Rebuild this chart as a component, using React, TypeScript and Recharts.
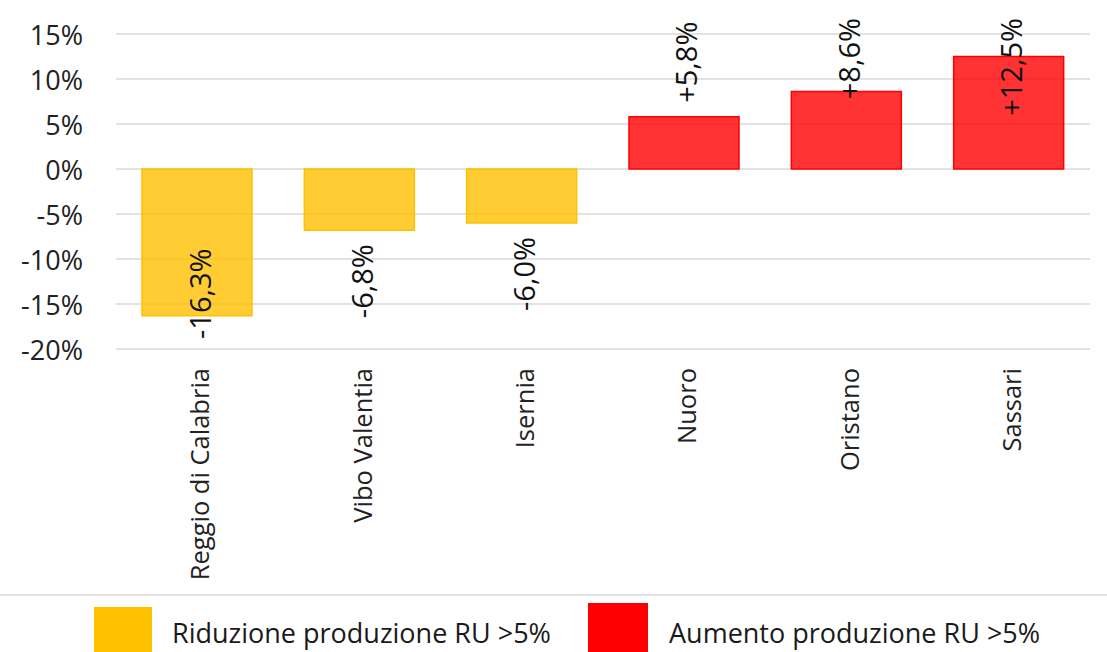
import React from "react";
import { BarChart, Bar, XAxis, YAxis, CartesianGrid, Cell, LabelList } from "recharts";

const categories = ["Reggio di Calabria", "Vibo Valentia", "Isernia", "Nuoro", "Oristano", "Sassari"];
const values = [-16.3, -6.8, -6.0, 5.8, 8.6, 12.5];
const yTicks = [-20, -15, -10, -5, 0, 5, 10, 15];
const legendItems = [
  { label: "Riduzione produzione RU >5%", color: "#FFC000" },
  { label: "Aumento produzione RU >5%", color: "#FF0000" },
];

const NEG_COLOR = "#FFC000";
const POS_COLOR = "#FF0000";
const FONT = "'Open Sans', 'DejaVu Sans', sans-serif";
const VALUE_FS = 29;

const data = categories.map((name, i) => ({ name, value: values[i] }));

const fmtValue = (v: number) => (v > 0 ? "+" : "") + v.toFixed(1).replace(".", ",") + "%";

const ValueLabel = (props: any) => {
  const { x, y, width, height, value } = props;
  const v = Number(value);
  const top = Math.min(y, y + height);
  const bottom = Math.max(y, y + height);
  const cx = x + width / 2 + 2;
  const text = fmtValue(v);
  const est = text.length * 0.55 * VALUE_FS;
  let ay: number;
  let anchor: "start" | "end";
  if (v >= 0) {
    const base = top - 14;
    if (base - est < 18) {
      ay = 18;
      anchor = "end";
    } else {
      ay = base;
      anchor = "start";
    }
  } else {
    const base = bottom + 14;
    if (base + est > 339) {
      ay = 339;
      anchor = "start";
    } else {
      ay = base;
      anchor = "end";
    }
  }
  return (
    <text
      x={cx}
      y={ay}
      transform={`rotate(-90, ${cx}, ${ay})`}
      textAnchor={anchor}
      dominantBaseline="central"
      fontFamily={FONT}
      fontSize={VALUE_FS}
      fill="#111"
    >
      {text}
    </text>
  );
};

const CategoryTick = (props: any) => {
  const { x, y, payload } = props;
  return (
    <text
      x={x + 2}
      y={y}
      transform={`rotate(-90, ${x + 2}, ${y})`}
      textAnchor="end"
      dominantBaseline="central"
      fontFamily={FONT}
      fontSize={25.5}
      fill="#222"
    >
      {payload.value}
    </text>
  );
};

const YTick = (props: any) => {
  const { x, y, payload } = props;
  return (
    <text x={x} y={y} textAnchor="end" dominantBaseline="central" fontFamily={FONT} fontSize={27} fill="#222">
      {`${payload.value}%`}
    </text>
  );
};

export default function App() {
  return (
    <div style={{ position: "absolute", left: 0, top: 0, width: 1107, height: 652, overflow: "hidden", background: "#fff" }}>
      <BarChart
        width={1107}
        height={595}
        data={data}
        margin={{ top: 34, right: 17, left: 0, bottom: 0 }}
      >
        <CartesianGrid vertical={false} stroke="#d9d9d9" strokeWidth={1.5} />
        <XAxis
          dataKey="name"
          axisLine={false}
          tickLine={false}
          tickSize={0}
          tickMargin={19}
          height={246}
          interval={0}
          tick={<CategoryTick />}
        />
        <YAxis
          width={116}
          domain={[-20, 15]}
          ticks={yTicks}
          axisLine={false}
          tickLine={false}
          tickSize={0}
          tickMargin={33}
          tick={<YTick />}
          interval={0}
        />
        <Bar dataKey="value" barSize={110} isAnimationActive={false} strokeWidth={1.5}>
          {data.map((d, i) => (
            <Cell
              key={i}
              fill={d.value < 0 ? NEG_COLOR : POS_COLOR}
              fillOpacity={0.8}
              stroke={d.value < 0 ? NEG_COLOR : POS_COLOR}
            />
          ))}
          <LabelList dataKey="value" content={<ValueLabel />} />
        </Bar>
      </BarChart>
      <div
        style={{
          position: "absolute",
          left: 0,
          top: 594,
          width: 1107,
          height: 2,
          background: "#e3e3e3",
        }}
      />
      {legendItems.map((item, i) => {
        const left = i === 0 ? 94 : 588;
        const swTop = i === 0 ? 607 : 603;
        const textLeft = i === 0 ? 172 : 669;
        return (
          <React.Fragment key={item.label}>
            <div
              style={{
                position: "absolute",
                left,
                top: swTop,
                width: i === 0 ? 58 : 60,
                height: 60,
                background: item.color,
              }}
            />
            <div
              style={{
                position: "absolute",
                left: textLeft,
                top: 615,
                fontFamily: FONT,
                fontSize: 27,
                lineHeight: "36px",
                color: "#1a1a1a",
                whiteSpace: "nowrap",
              }}
            >
              {item.label}
            </div>
          </React.Fragment>
        );
      })}
    </div>
  );
}
